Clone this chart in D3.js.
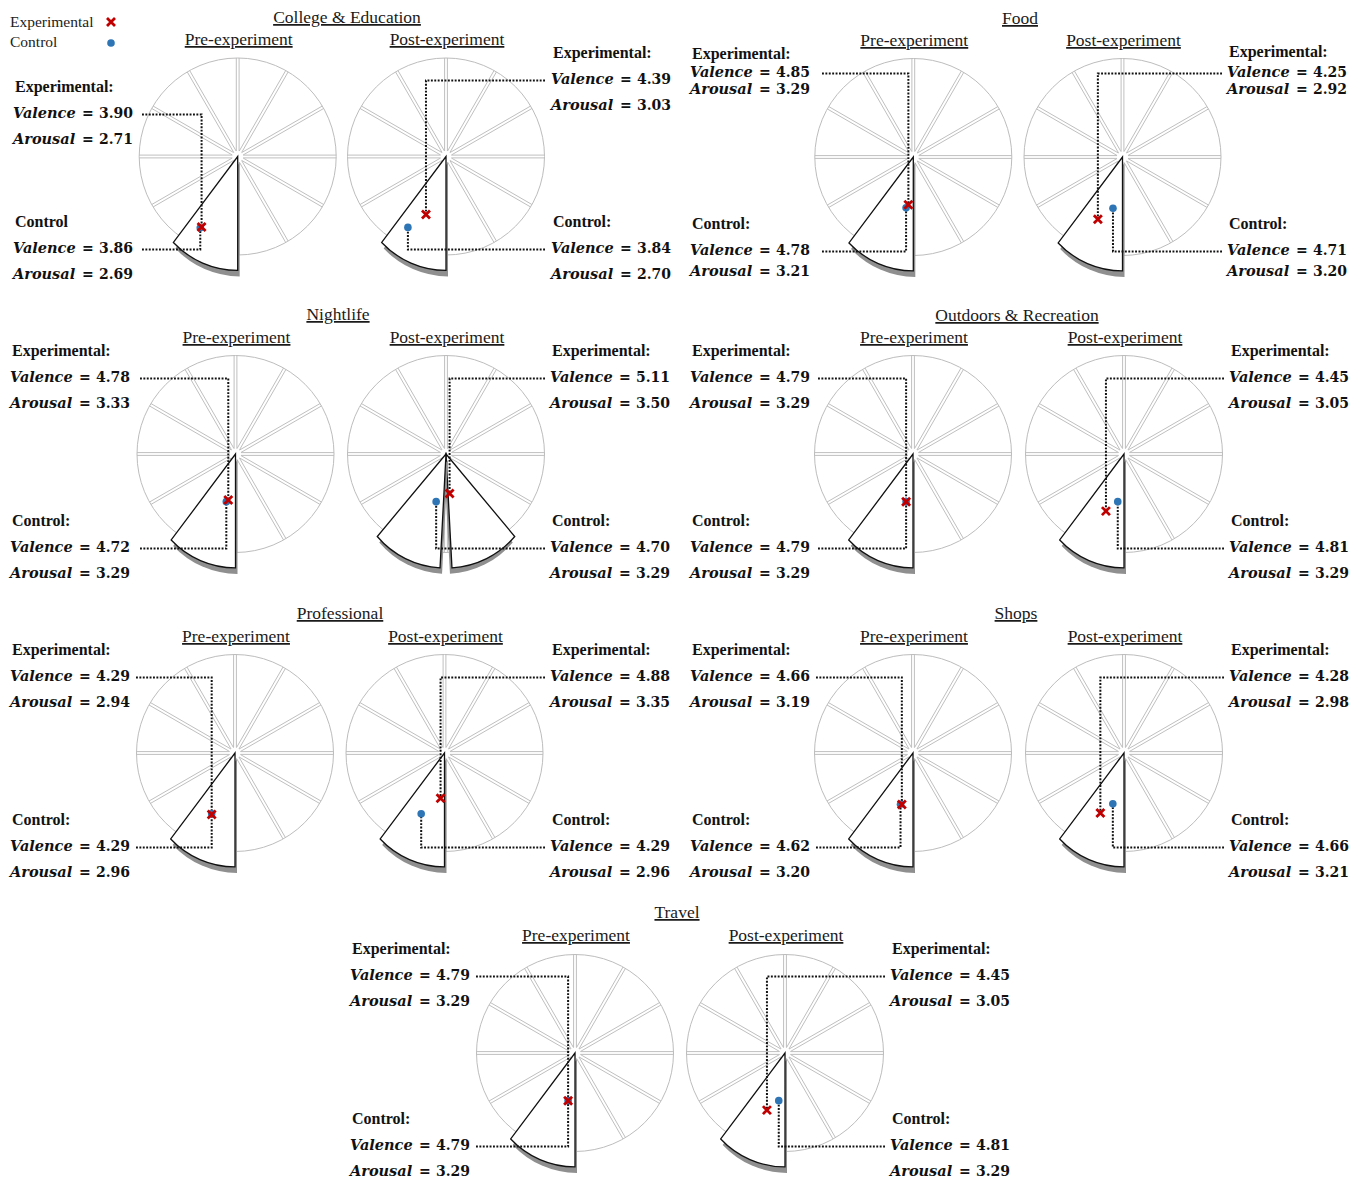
<!DOCTYPE html>
<html>
<head>
<meta charset="utf-8">
<script src="https://cdn.jsdelivr.net/npm/d3@7"></script>
<style>
  html, body { margin: 0; padding: 0; background: #fff; }
  svg { display: block; }
</style>
</head>
<body>
<div id="chart"></div>
<script>
// ---- data -------------------------------------------------------------
const categories = ["College & Education", "Food", "Nightlife", "Outdoors & Recreation",
                    "Professional", "Shops", "Travel"];
const phases = ["Pre-experiment", "Post-experiment"];
const groups = ["Experimental", "Control"];

const expValencePre   = [3.90, 4.85, 4.78, 4.79, 4.29, 4.66, 4.79];
const expArousalPre   = [2.71, 3.29, 3.33, 3.29, 2.94, 3.19, 3.29];
const ctrlValencePre  = [3.86, 4.78, 4.72, 4.79, 4.29, 4.62, 4.79];
const ctrlArousalPre  = [2.69, 3.21, 3.29, 3.29, 2.96, 3.20, 3.29];

const expValencePost  = [4.39, 4.25, 5.11, 4.45, 4.88, 4.28, 4.45];
const expArousalPost  = [3.03, 2.92, 3.50, 3.05, 3.35, 2.98, 3.05];
const ctrlValencePost = [3.84, 4.71, 4.70, 4.81, 4.29, 4.66, 4.81];
const ctrlArousalPost = [2.70, 3.20, 3.29, 3.29, 2.96, 3.21, 3.29];

// emotion-wheel sector (12 sectors, clockwise from 12 o'clock) reached per panel
const sectorPre  = [[6], [6], [6], [6], [6], [6], [6]];
const sectorPost = [[6], [6], [5, 6], [6], [6], [6], [6]];

const valenceDomain = [2, 8];   // horizontal axis of the wheel
const arousalDomain = [2, 7];   // vertical axis of the wheel

// ---- layout -------------------------------------------------------------
const W = 1365, H = 1181, R = 98.5;
const layout = [
  { title: [347, 17],  subY: 39,  cx: [237.7, 446],   cy: 156.5, labelX: [13, 551],  lineX: [142, 545],
    expY: [[87, 113, 139], [53, 79, 105]], ctrlY: [[222, 248, 274], [222, 248, 274]], ctrlText: ["Control", "Control:"] },
  { title: [1020, 18], subY: 40,  cx: [913.3, 1122.5], cy: 157,  labelX: [690, 1227], lineX: [822, 1222],
    expY: [[54, 72, 89], [52, 72, 89]], ctrlY: [[224, 250, 271], [224, 250, 271]] },
  { title: [338, 314], subY: 337, cx: [235.5, 446],   cy: 454,   labelX: [10, 550],  lineX: [140, 545],
    expY: [[351, 377, 403], [351, 377, 403]], ctrlY: [[521, 547, 573], [521, 547, 573]] },
  { title: [1017, 315], subY: 337, cx: [913, 1124],   cy: 454,   labelX: [690, 1229], lineX: [818, 1224],
    expY: [[351, 377, 403], [351, 377, 403]], ctrlY: [[521, 547, 573], [521, 547, 573]] },
  { title: [340, 613], subY: 636, cx: [235, 444.5],   cy: 753,   labelX: [10, 550],  lineX: [136, 545],
    expY: [[650, 676, 702], [650, 676, 702]], ctrlY: [[820, 846, 872], [820, 846, 872]] },
  { title: [1016, 613], subY: 636, cx: [913, 1124],   cy: 753,   labelX: [690, 1229], lineX: [816, 1224],
    expY: [[650, 676, 702], [650, 676, 702]], ctrlY: [[820, 846, 872], [820, 846, 872]] },
  { title: [677, 912], subY: 935, cx: [575, 785],     cy: 1053,  labelX: [350, 890], lineX: [476, 885],
    expY: [[949, 975, 1001], [949, 975, 1001]], ctrlY: [[1119, 1145, 1171], [1119, 1145, 1171]] }
];

const SERIF = "'Liberation Serif', 'Times New Roman', serif";
const MATH = "'DejaVu Serif', serif";
const RED = "#c00000", BLUE = "#2e75b6";
const fmt = d3.format(".2f");

const x = d3.scaleLinear().domain(valenceDomain).range([-R, R]);
const y = d3.scaleLinear().domain(arousalDomain).range([R, -R]);

const svg = d3.select("#chart").append("svg")
  .attr("width", W).attr("height", H)
  .attr("viewBox", `0 0 ${W} ${H}`);
svg.append("rect").attr("width", W).attr("height", H).attr("fill", "#fff");

const defs = svg.append("defs");
defs.append("filter").attr("id", "soft")
  .append("feGaussianBlur").attr("stdDeviation", 0.7);

// ---- marker helpers -----------------------------------------------------
function drawCross(g, cx, cy) {
  const s = 4;
  g.append("path")
    .attr("d", `M${cx - s},${cy - s}L${cx + s},${cy + s}M${cx - s},${cy + s}L${cx + s},${cy - s}`)
    .attr("stroke", RED).attr("stroke-width", 2.8).attr("stroke-linecap", "butt").attr("fill", "none");
}
function drawDot(g, cx, cy) {
  g.append("circle").attr("cx", cx).attr("cy", cy).attr("r", 3.8).attr("fill", BLUE);
}

// point on the wheel, angle in degrees clockwise from 12 o'clock
function polar(cx, cy, deg, r) {
  const a = deg * Math.PI / 180;
  return [cx + r * Math.sin(a), cy - r * Math.cos(a)];
}

// ---- emotion wheel ------------------------------------------------------
function drawWheel(g, cx, cy, sectors) {
  g.append("circle").attr("cx", cx).attr("cy", cy).attr("r", R)
    .attr("fill", "#fff").attr("stroke", "#bdbdbd").attr("stroke-width", 1);

  // separators between the 12 sectors, drawn as thin double lines
  const off = 1.4, r0 = 5.5;
  d3.range(12).forEach(k => {
    const a = k * 30 * Math.PI / 180;
    const ux = Math.sin(a), uy = -Math.cos(a);
    const nx = Math.cos(a), ny = Math.sin(a);
    const r1 = Math.sqrt(R * R - off * off);
    [-off, off].forEach(o => {
      g.append("line")
        .attr("x1", cx + ux * r0 + nx * o).attr("y1", cy + uy * r0 + ny * o)
        .attr("x2", cx + ux * r1 + nx * o).attr("y2", cy + uy * r1 + ny * o)
        .attr("stroke", "#bcbcbc").attr("stroke-width", 0.95);
    });
  });

  // highlighted (pulled-out) sectors
  const set = new Set(sectors);
  sectors.forEach(k => {
    const lo = k * 30, hi = (k + 1) * 30;
    const nearIsLo = Math.abs(lo - 180) <= Math.abs(hi - 180);
    let near = nearIsLo ? lo : hi;
    const far = nearIsLo ? hi : lo;
    const dir = Math.sign(far - near);
    let farExt = far + dir * 6.8;
    const neighbour = nearIsLo ? k - 1 : k + 1;
    if (set.has(neighbour)) { near += dir * 3; farExt += dir * 3; }
    const p0 = polar(cx, cy, near, R * 1.157);
    const p1 = polar(cx, cy, farExt, R * 1.09);
    const rho = R * 0.9;
    const d = `M${cx},${cy}L${p0[0]},${p0[1]}A${rho},${rho} 0 0 ${dir > 0 ? 1 : 0} ${p1[0]},${p1[1]}Z`;
    g.append("path").attr("d", d)
      .attr("transform", `translate(${dir > 0 ? 2 : -2},6)`)
      .attr("fill", "#8f8f8f").attr("filter", "url(#soft)");
    g.append("path").attr("d", d)
      .attr("fill", "#fff").attr("stroke", "#111").attr("stroke-width", 1.3)
      .attr("stroke-linejoin", "miter");
  });
}

// ---- value labels -------------------------------------------------------
function drawLabelBlock(g, lx, ys, head, valence, arousal) {
  g.append("text").attr("x", lx + 2).attr("y", ys[0] + 5.3)
    .attr("font-family", SERIF).attr("font-weight", "bold").attr("font-size", 16)
    .attr("fill", "#111").text(head);
  [["Valence", valence, ys[1]], ["Arousal", arousal, ys[2]]].forEach(([name, v, yy]) => {
    const t = g.append("g").attr("fill", "#111").attr("font-family", MATH).attr("font-weight", "bold");
    t.append("text").attr("x", lx).attr("y", yy + 5.2)
      .attr("font-style", "italic").attr("font-size", 14.5).text(name);
    t.append("text").attr("x", lx + 69).attr("y", yy + 5.2)
      .attr("font-size", 14).text("=");
    t.append("text").attr("x", lx + 86).attr("y", yy + 5.2)
      .attr("font-size", 14).text(fmt(v));
  });
}

function leader(g, x0, yy, mx, my) {
  g.append("path").attr("d", `M${x0},${yy}L${mx},${yy}L${mx},${my}`)
    .attr("fill", "none").attr("stroke", "#111").attr("stroke-width", 2)
    .attr("stroke-dasharray", "1.9,1.5");
}

// ---- panels ---------------------------------------------------------------
categories.forEach((cat, i) => {
  const L = layout[i];
  const g = svg.append("g").attr("class", "panel");

  g.append("text").attr("x", L.title[0]).attr("y", L.title[1] + 6)
    .attr("text-anchor", "middle").attr("font-family", SERIF).attr("font-size", 17.5)
    .attr("fill", "#1a1a1a").attr("text-decoration", "underline").text(cat);

  const vals = [
    { ev: expValencePre[i], ea: expArousalPre[i], cv: ctrlValencePre[i], ca: ctrlArousalPre[i], sec: sectorPre[i] },
    { ev: expValencePost[i], ea: expArousalPost[i], cv: ctrlValencePost[i], ca: ctrlArousalPost[i], sec: sectorPost[i] }
  ];

  phases.forEach((ph, j) => {
    const cx = L.cx[j], cy = L.cy, v = vals[j];
    g.append("text").attr("x", cx + 1).attr("y", L.subY + 6)
      .attr("text-anchor", "middle").attr("font-family", SERIF).attr("font-size", 17.5)
      .attr("fill", "#1a1a1a").attr("text-decoration", "underline").text(ph);

    drawWheel(g, cx, cy, v.sec);

    const ex = cx + x(v.ev), ey = cy + y(v.ea);
    const kx = cx + x(v.cv), ky = cy + y(v.ca);

    leader(g, L.lineX[j], L.expY[j][1] + 1.5, ex, ey);
    leader(g, L.lineX[j], L.ctrlY[j][1] + 1.5, kx, ky);

    drawDot(g, kx, ky);
    drawCross(g, ex, ey);

    const ctrlHead = L.ctrlText ? L.ctrlText[j] : "Control:";
    drawLabelBlock(g, L.labelX[j], L.expY[j], groups[0] + ":", v.ev, v.ea);
    drawLabelBlock(g, L.labelX[j], L.ctrlY[j], ctrlHead, v.cv, v.ca);
  });
});

// ---- legend ---------------------------------------------------------------
const lg = svg.append("g").attr("class", "legend");
lg.append("text").attr("x", 10).attr("y", 27).attr("font-family", SERIF)
  .attr("font-size", 15.5).attr("fill", "#222").text(groups[0]);
lg.append("text").attr("x", 10).attr("y", 47).attr("font-family", SERIF)
  .attr("font-size", 15.5).attr("fill", "#222").text(groups[1]);
drawCross(lg, 111, 22);
drawDot(lg, 111, 43);
</script>
</body>
</html>
